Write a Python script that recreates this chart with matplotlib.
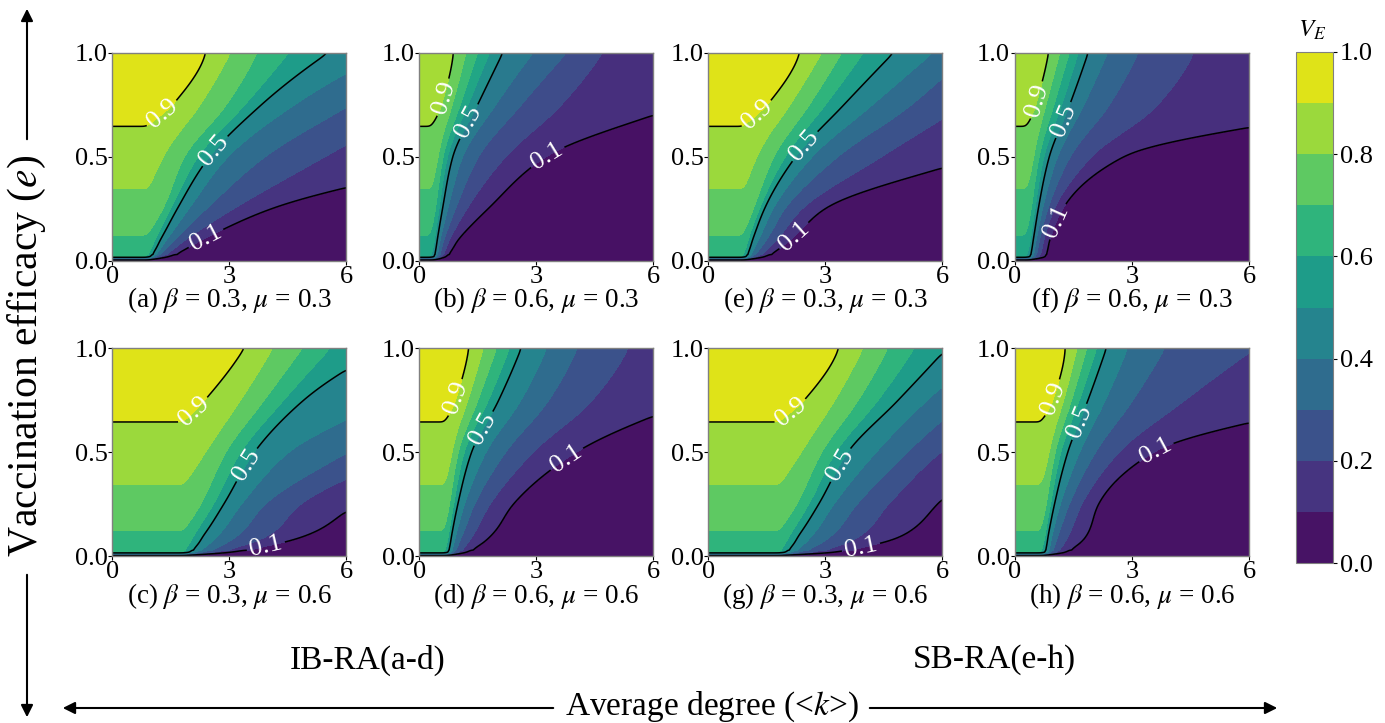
import numpy as np
import matplotlib
matplotlib.use("Agg")
import matplotlib.pyplot as plt
from matplotlib.patches import FancyArrowPatch

plt.rcParams['font.family'] = ['Liberation Serif', 'DejaVu Serif']
plt.rcParams['mathtext.fontset'] = 'stix'

# contour levels of V_E, and the e rows where their k-crossings were read
LEVELS = [0.9, 0.8, 0.7, 0.6, 0.5, 0.4, 0.3, 0.2, 0.1]
E_ROWS = [0.02, 0.1, 0.25, 0.5, 0.75, 1.0]

# V_E below the epidemic threshold (flat in k, same in every panel)
PLATEAU_E = [0.0, 0.02, 0.1, 0.25, 0.5, 0.75, 1.0]
PLATEAU_V = [0.0, 0.61, 0.69, 0.76, 0.865, 0.925, 0.96]

n = np.nan
# epidemic threshold <k> per panel
K_C = {'a': 0.93, 'b': 0.38, 'e': 0.94, 'f': 0.37,
       'c': 1.85, 'd': 0.72, 'g': 1.85, 'h': 0.73}

# k where V_E crosses each level (columns = LEVELS), one row per E_ROWS
CROSS = {
    'a': [[n, n, n, n, 0.98, 1.03, 1.10, 1.22, 1.45],
          [n, n, n, 1.12, 1.22, 1.38, 1.58, 1.85, 2.3],
          [n, n, 1.35, 1.50, 1.64, 1.95, 2.4, 3.1, 4.1],
          [n, 1.31, 1.87, 2.21, 2.47, 2.94, 3.9, 5.4, 9.3],
          [1.61, 2.25, 2.94, 3.41, 3.79, 4.65, 6.1, 7.8, 14],
          [2.44, 3.02, 3.71, 4.52, 5.52, 7.0, 8.3, 10.4, 19]],
    'b': [[n, n, n, n, 0.39, 0.42, 0.47, 0.55, 0.68],
          [n, n, n, 0.41, 0.44, 0.52, 0.62, 0.75, 1.0],
          [n, n, 0.45, 0.5, 0.57, 0.72, 0.92, 1.2, 1.77],
          [n, 0.5, 0.62, 0.72, 0.83, 1.1, 1.5, 2.2, 3.26],
          [0.62, 0.85, 1.05, 1.25, 1.47, 1.95, 2.6, 3.6, 6.77],
          [0.91, 1.2, 1.5, 1.8, 2.11, 2.92, 3.78, 4.63, 10.3]],
    'e': [[n, n, n, n, 0.97, 1.02, 1.10, 1.22, 1.45],
          [n, n, n, 1.04, 1.11, 1.28, 1.48, 1.73, 2.1],
          [n, n, 1.2, 1.32, 1.41, 1.65, 1.95, 2.4, 3.0],
          [n, 1.25, 1.7, 1.98, 2.22, 2.65, 3.3, 4.4, 6.95],
          [1.58, 2.1, 2.6, 3.0, 3.46, 4.2, 5.2, 6.5, 11],
          [2.39, 2.91, 3.42, 3.97, 4.74, 5.77, 6.6, 8.5, 14]],
    'f': [[n, n, n, n, 0.39, 0.43, 0.5, 0.6, 0.77],
          [n, n, n, 0.41, 0.46, 0.53, 0.62, 0.72, 0.89],
          [n, n, 0.45, 0.51, 0.58, 0.7, 0.84, 1.0, 1.23],
          [n, 0.5, 0.62, 0.74, 0.86, 1.08, 1.4, 1.95, 2.8],
          [0.58, 0.8, 1.0, 1.2, 1.38, 1.75, 2.4, 3.6, 9.25],
          [0.9, 1.15, 1.4, 1.62, 1.85, 2.36, 3.14, 4.51, 15]],
    'c': [[n, n, n, n, 1.97, 2.1, 2.3, 2.6, 3.05],
          [n, n, n, 2.1, 2.32, 2.7, 3.2, 4.0, 5.0],
          [n, n, 2.3, 2.6, 2.83, 3.3, 3.9, 4.8, 6.33],
          [n, 2.41, 2.92, 3.3, 3.6, 4.5, 6.05, 7.4, 11],
          [2.41, 3.3, 3.9, 4.4, 4.83, 6.9, 8.5, 10, 15],
          [3.43, 4.11, 4.88, 5.56, 6.95, 8.5, 10, 12, 20]],
    'd': [[n, n, n, n, 0.74, 0.78, 0.85, 0.98, 1.21],
          [n, n, n, 0.76, 0.8, 0.92, 1.08, 1.35, 1.85],
          [n, n, 0.8, 0.88, 0.96, 1.15, 1.4, 1.8, 2.41],
          [n, 0.85, 1.0, 1.15, 1.31, 1.7, 2.2, 2.9, 4.03],
          [0.97, 1.25, 1.5, 1.78, 2.0, 2.6, 3.3, 4.4, 7.05],
          [1.3, 1.64, 1.98, 2.32, 2.58, 3.26, 4.03, 5.3, 11]],
    'g': [[n, n, n, n, 1.97, 2.1, 2.3, 2.65, 3.23],
          [n, n, n, 2.1, 2.3, 2.65, 3.15, 3.9, 5.0],
          [n, n, 2.3, 2.58, 2.81, 3.2, 3.8, 4.6, 5.87],
          [n, 2.4, 2.92, 3.28, 3.53, 4.3, 5.1, 5.95, 7.03],
          [2.51, 3.25, 3.85, 4.35, 4.85, 5.6, 6.6, 8, 12],
          [3.39, 3.96, 4.6, 5.28, 6.1, 7.2, 8.5, 10, 15]],
    'h': [[n, n, n, n, 0.77, 0.82, 0.9, 1.03, 1.29],
          [n, n, n, 0.79, 0.83, 0.93, 1.08, 1.35, 1.84],
          [n, n, 0.83, 0.91, 0.99, 1.15, 1.38, 1.7, 2.14],
          [n, 0.9, 1.03, 1.17, 1.33, 1.65, 2.05, 2.65, 3.56],
          [1.03, 1.25, 1.45, 1.65, 1.84, 2.3, 3.0, 4.3, 8.5],
          [1.33, 1.59, 1.84, 2.1, 2.31, 2.87, 3.81, 6.1, 14]],
}

BETA = {'a': 0.3, 'b': 0.6, 'c': 0.3, 'd': 0.6, 'e': 0.3, 'f': 0.6, 'g': 0.3, 'h': 0.6}
MU = {'a': 0.3, 'b': 0.3, 'c': 0.6, 'd': 0.6, 'e': 0.3, 'f': 0.3, 'g': 0.6, 'h': 0.6}
# panels b and f are drawn with a slightly wider colour range
VMAX = {'a': 1.0, 'b': 1.1, 'c': 1.0, 'd': 1.0, 'e': 1.0, 'f': 1.1, 'g': 1.0, 'h': 1.0}

# where the inline labels 0.9 / 0.5 / 0.1 sit, (k, e)
LABEL_POS = {
    'a': [(1.31, 0.70), (2.55, 0.54), (2.42, 0.10)],
    'b': [(0.53, 0.79), (1.21, 0.675), (3.35, 0.48)],
    'e': [(1.2, 0.716), (2.39, 0.564), (2.22, 0.115)],
    'f': [(0.6, 0.77), (1.07, 0.69), (1.07, 0.19)],
    'c': [(2.07, 0.70), (3.39, 0.446), (3.94, 0.045)],
    'd': [(0.87, 0.767), (1.56, 0.623), (3.86, 0.446)],
    'g': [(2.09, 0.70), (3.32, 0.446), (3.91, 0.045)],
    'h': [(0.9, 0.767), (1.54, 0.655), (3.64, 0.494)],
}

k_grid = np.linspace(0, 6, 301)
e_grid = np.concatenate([np.linspace(0, 0.03, 61)[:-1], np.linspace(0.03, 1.0, 195)])


def pchip(x, y, xq):
    # monotone cubic through (x, y), clamped outside
    x = np.asarray(x, float)
    y = np.asarray(y, float)
    xq = np.clip(xq, x[0], x[-1])
    if len(x) < 3:
        return np.interp(xq, x, y)
    h = np.diff(x)
    d = np.diff(y) / h
    m = np.zeros_like(y)
    for i in range(1, len(x) - 1):
        if d[i - 1] * d[i] > 0:
            w1 = 2 * h[i] + h[i - 1]
            w2 = h[i] + 2 * h[i - 1]
            m[i] = (w1 + w2) / (w1 / d[i - 1] + w2 / d[i])
    for i0, a, b, ha, hb in ((0, d[0], d[1], h[0], h[1]), (-1, d[-1], d[-2], h[-1], h[-2])):
        mm = ((2 * ha + hb) * a - ha * b) / (ha + hb)
        if np.sign(mm) != np.sign(a):
            mm = 0.0
        elif np.sign(a) != np.sign(b) and abs(mm) > abs(3 * a):
            mm = 3 * a
        m[i0] = mm
    idx = np.clip(np.searchsorted(x, xq) - 1, 0, len(x) - 2)
    t = (xq - x[idx]) / h[idx]
    h00 = 2 * t**3 - 3 * t**2 + 1
    h10 = t**3 - 2 * t**2 + t
    h01 = -2 * t**3 + 3 * t**2
    h11 = t**3 - t**2
    return h00 * y[idx] + h10 * h[idx] * m[idx] + h01 * y[idx + 1] + h11 * h[idx] * m[idx + 1]


def level_track(k_c, cross, j):
    L = LEVELS[j]
    e_p = np.interp(L, PLATEAU_V, PLATEAU_E)
    es, ks = [e_p], [k_c]
    for r, e_r in enumerate(E_ROWS):
        v = cross[r][j]
        if e_r > e_p and not np.isnan(v):
            es.append(e_r)
            ks.append(v)
    return pchip(es, ks, e_grid)


def blur(V, sig_rows, sig_cols):
    for axis, sig in ((0, sig_rows), (1, sig_cols)):
        r = int(3 * sig)
        x = np.arange(-r, r + 1)
        w = np.exp(-0.5 * (x / sig) ** 2)
        w /= w.sum()
        pad = [(r, r), (0, 0)] if axis == 0 else [(0, 0), (r, r)]
        Vp = np.pad(V, pad, mode='edge')
        V = np.apply_along_axis(lambda a: np.convolve(a, w, mode='valid'), axis, Vp)
    return V


def build_field(k_c, cross):
    tracks = [level_track(k_c, cross, j) for j in range(len(LEVELS))]
    V = np.zeros((len(e_grid), len(k_grid)))
    for i, e in enumerate(e_grid):
        p = np.interp(e, PLATEAU_E, PLATEAU_V)
        kk, vv = [0.0, k_c], [p, p]
        for L, tr in zip(LEVELS, tracks):
            if L < p:
                kk.append(max(tr[i], kk[-1] + 1e-4))
                vv.append(L)
        step = max(kk[-1] - kk[-2], 0.05)
        kk.append(kk[-1] + step)
        vv.append(max(vv[-1] - 0.1, 0.0))
        V[i] = np.interp(k_grid, kk, vv)
    return blur(V, 3, 4)


W, H = 1385, 723
fig = plt.figure(figsize=(W / 100, H / 100), dpi=100)

layout = [['a', 'b', 'e', 'f'], ['c', 'd', 'g', 'h']]
col_x = [112.3, 419.3, 708.3, 1015.0]
row_top = [52.7, 348.3]
ax_w, ax_h = 234, 208

K, E = np.meshgrid(k_grid, e_grid)
fill_levels = np.linspace(0, 1, 11)
cf_ref = None

for r, row in enumerate(layout):
    for c, key in enumerate(row):
        ax = fig.add_axes([col_x[c] / W, 1 - (row_top[r] + ax_h) / H, ax_w / W, ax_h / H])
        V = build_field(K_C[key], CROSS[key])
        cf = ax.contourf(K, E, V, levels=fill_levels, cmap='viridis', vmin=0, vmax=VMAX[key])
        if key == 'a':
            cf_ref = cf
        cs = ax.contour(K, E, V, levels=[0.1, 0.5, 0.9], colors='k', linewidths=1.1)
        ax.clabel(cs, fmt='%.1f', fontsize=19, colors='white', inline=True,
                  inline_spacing=3, manual=LABEL_POS[key])
        ax.set_xlim(0, 6)
        ax.set_ylim(0, 1)
        ax.set_xticks([0, 3, 6])
        ax.set_yticks([0, 0.5, 1.0])
        ax.set_yticklabels(['0.0', '0.5', '1.0'])
        ax.tick_params(labelsize=19, length=3, pad=0.5, direction='out')
        for s in ax.spines.values():
            s.set_color('0.5')
            s.set_linewidth(1.0)
        ax.text(0.5, -0.19,
                '(%s) $\\beta$ = %.1f, $\\mu$ = %.1f' % (key, BETA[key], MU[key]),
                transform=ax.transAxes, ha='center', va='center', fontsize=19.5)

# colour bar
cax = fig.add_axes([1296 / W, 1 - 563 / H, 37 / W, 511 / H])
cb = fig.colorbar(cf_ref, cax=cax, ticks=[0, 0.2, 0.4, 0.6, 0.8, 1.0])
cb.ax.set_yticklabels(['0.0', '0.2', '0.4', '0.6', '0.8', '1.0'])
cb.ax.tick_params(labelsize=19, length=3, pad=2)
cb.outline.set_edgecolor('0.5')
fig.text(1298 / W, 1 - 30 / H, r'$V_E$', fontsize=18, ha='left', va='center')

# group captions and axis titles
fig.text(368 / W, 1 - 660 / H, 'IB-RA(a-d)', fontsize=24, ha='center', va='center')
fig.text(994 / W, 1 - 660 / H, 'SB-RA(e-h)', fontsize=24, ha='center', va='center')
fig.text(712 / W, 1 - 707 / H, r'Average degree (<$k$>)', fontsize=24, ha='center', va='center')
fig.text(27 / W, 1 - 356 / H, r'Vaccination efficacy ($e$)', fontsize=30,
         rotation=90, ha='center', va='center')

arrow_kw = dict(transform=fig.transFigure, arrowstyle='-|>', mutation_scale=18,
                color='black', linewidth=1.5)
fig.add_artist(FancyArrowPatch((556 / W, 1 - 708 / H), (60 / W, 1 - 708 / H), **arrow_kw))
fig.add_artist(FancyArrowPatch((867 / W, 1 - 708 / H), (1280 / W, 1 - 708 / H), **arrow_kw))
fig.add_artist(FancyArrowPatch((27 / W, 1 - 142 / H), (27 / W, 1 - 6 / H), **arrow_kw))
fig.add_artist(FancyArrowPatch((27 / W, 1 - 572 / H), (27 / W, 1 - 720 / H), **arrow_kw))

fig.savefig('out.png', dpi=100)
